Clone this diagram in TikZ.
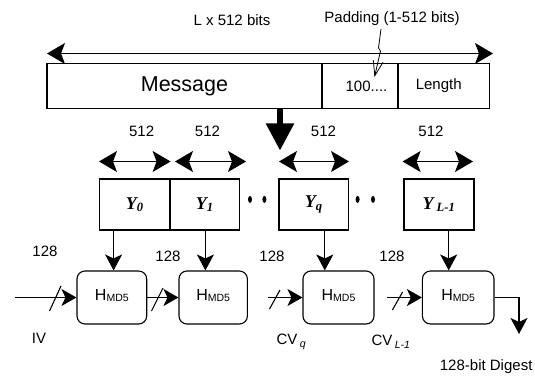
\documentclass[tikz,border=0pt]{standalone}
\usepackage{fontspec}
\setmainfont{Liberation Sans}
\newfontfamily\yserif{Liberation Serif}
\usetikzlibrary{arrows.meta,shapes.geometric}
\begin{document}
\begin{tikzpicture}[x=1pt,y=-1pt,line width=1.1pt,
  bar/.style={draw,rectangle,minimum height=45pt,inner sep=0pt,font=\fontsize{15}{15}\selectfont},
  yblock/.style={draw,rectangle,minimum height=51pt,inner sep=0pt,font=\yserif\bfseries\itshape\fontsize{18}{18}\selectfont},
  hbox/.style={draw,rounded corners=8pt,minimum height=53pt,inner sep=0pt,font=\fontsize{16}{16}\selectfont},
  lbl/.style={inner sep=0pt,font=\fontsize{15}{15}\selectfont},
  dbl/.style={{Stealth[length=18pt,width=21pt,inset=4pt]}-{Stealth[length=18pt,width=21pt,inset=4pt]}},
  varrow/.style={-{Stealth[length=16pt,width=17pt,inset=4pt]}},
  harrow/.style={-{Stealth[length=15pt,width=17pt,inset=4pt]}},
  dot/.style={fill,ellipse,inner sep=0pt,minimum width=4pt,minimum height=7pt,draw=none}
]
\useasboundingbox (0,0) rectangle (535,377);
\newcommand{\Hmd}{H\raisebox{-1pt}{\fontsize{10.5}{10.5}\selectfont MD5}}
% top labels
\node[lbl] (lx) at (232,20.5) {L x 512 bits};
\node[lbl] (padl) at (392,19) {Padding (1-512 bits)};
% top span arrow
\coordinate (tl) at (47,53.5);
\coordinate (tr) at (493,53.5);
\draw[dbl] (tl) -- (tr);
% message bar
\node[bar,minimum width=275pt,font=\fontsize{21.5}{21.5}\selectfont] (msg) at (184.5,86) {Message};
\node[bar,minimum width=76pt] (pad) at (360,86) {\hspace*{13pt}100....};
\node[bar,minimum width=91.5pt] (len) at (443.75,86) {\hspace*{-10pt}Length};
% padding pointer
\coordinate (pt0) at (381,29);
\coordinate (pt1) at (374.5,77);
\draw[line width=0.8pt,-{Straight Barb[length=15pt,width=10pt]}] (pt0) -- (378.5,48) -- (380.5,51) -- (pt1);
% big down arrow
\coordinate (bigtip) at (280,150.5);
\draw[line width=5.5pt,-{Triangle[length=27pt,width=27pt]}] (msg.south -| bigtip) -- (bigtip);
% 512 arrows and labels
\foreach \a/\b/\l/\n in {99/170.6/141.6/a,175/246/207.5/b,279/349/323.5/c,402.6/473/431/d}{
  \coordinate (s\n) at (\a,161.5);
  \coordinate (e\n) at (\b,161.5);
  \draw[dbl] (s\n) -- (e\n);
  \node[lbl] (t\n) at (\l,131.5) {512};
}
% Y blocks
\node[yblock,minimum width=70.4pt] (Y0) at (134.8,204.5) {Y\textsubscript{0}};
\node[yblock,minimum width=69.5pt] (Y1) at (204.75,204.5) {Y\textsubscript{1}};
\node[yblock,minimum width=69.7pt] (Yq) at (313.85,204.5) {Y\textsubscript{q}};
\node[yblock,minimum width=70pt] (YL) at (439,204.5) {Y\,\textsubscript{L-1}};
% dots
\node[dot] (d1) at (250,199.4) {};
\node[dot] (d2) at (264.4,199.4) {};
\node[dot] (d3) at (357.6,199.4) {};
\node[dot] (d4) at (373,199.4) {};
% H boxes
\node[hbox,minimum width=69.7pt] (H1) at (111.85,297.5) {\raisebox{5pt}{\Hmd}};
\node[hbox,minimum width=68.4pt] (H2) at (213.2,297.5) {\raisebox{5pt}{\Hmd}};
\node[hbox,minimum width=71pt] (H3) at (338.5,297.5) {\raisebox{5pt}{\Hmd}};
\node[hbox,minimum width=71.6pt] (H4) at (458.2,297.5) {\raisebox{5pt}{\Hmd}};
% vertical connectors
\coordinate (c0) at (113.6,0);
\coordinate (c1) at (205.4,0);
\coordinate (c2) at (324.8,0);
\coordinate (c3) at (448.7,0);
\draw[varrow] (Y0.south -| c0) -- (H1.north -| c0);
\draw[varrow] (Y1.south -| c1) -- (H2.north -| c1);
\draw[varrow] (Yq.south -| c2) -- (H3.north -| c2);
\draw[varrow] (YL.south -| c3) -- (H4.north -| c3);
% chaining connectors
\coordinate (iv) at (15,297.5);
\coordinate (cq) at (267.8,297.5);
\coordinate (cl) at (387,297.5);
\coordinate (out) at (519,334);
\draw[harrow] (iv) -- (H1.west);
\draw[harrow] (H1.east) -- (H2.west);
\draw[harrow] (cq) -- (H3.west);
\draw[harrow] (cl) -- (H4.west);
\draw[varrow] (H4.east) -| (out);
% slashes
\draw (49.5,311) -- (61,286);
\draw (151.5,311) -- (163,288);
\draw (269.5,309) -- (280,290);
\draw (392.4,310) -- (402.6,292);
% bottom labels
\node[lbl] (n1) at (45,251) {128};
\node[lbl] (n2) at (168,256) {128};
\node[lbl] (n3) at (272,256) {128};
\node[lbl] (n4) at (392,256) {128};
\node[lbl] (IV) at (39,338) {IV};
\node[lbl,anchor=west] (CVq) at (276,342) {CV\,\raisebox{-3pt}{\fontsize{10.5}{10.5}\selectfont\itshape q}};
\node[lbl,anchor=west] (CVL) at (371,342) {CV\,\raisebox{-3pt}{\fontsize{10.5}{10.5}\selectfont\itshape L-1}};
\node[lbl,anchor=east] (dig) at (533,367) {128-bit Digest};
\end{tikzpicture}
\end{document}
